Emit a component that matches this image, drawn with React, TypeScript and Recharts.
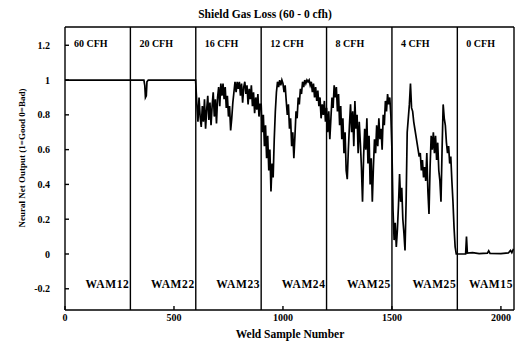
import React from 'react';
import {
  LineChart,
  Line,
  XAxis,
  YAxis,
  ReferenceLine,
  ReferenceArea,
} from 'recharts';

// weld sample boundaries between gas-flow runs
const sectionStarts = [0, 300, 600, 900, 1200, 1500, 1800];
const sectionEnd = 2060;
const flowLabels = ['60 CFH', '20 CFH', '16 CFH', '12 CFH', '8 CFH', '4 CFH', '0 CFH'];
const wamLabels = ['WAM12', 'WAM22', 'WAM23', 'WAM24', 'WAM25', 'WAM25', 'WAM15'];

const xTicks = [0, 500, 1000, 1500, 2000];
const yTicks = [-0.2, 0, 0.2, 0.4, 0.6, 0.8, 1, 1.2];
const yMin = -0.322;
const yMax = 1.305;

// sparse runs: [sample, output]
const cfh60: [number, number][] = [[0, 1], [150, 1], [299, 1]];
const cfh20: [number, number][] = [
  [300, 1], [362, 1], [366, 0.97], [369, 0.9], [373, 0.91], [376, 0.99], [382, 1], [599, 1],
];
const cfh0: [number, number][] = [
  [1800, 0], [1838, 0], [1842, 0.1], [1846, 0.005], [1870, 0.008], [1900, 0.002],
  [1938, 0.005], [1944, 0.018], [1950, 0.004], [2000, 0.002], [2034, 0.006], [2044, 0.02],
  [2050, 0.008], [2058, 0.03],
];

// dense runs, one value every 5 samples
const denseStep = 5;
const cfh16 = [
  0.98, 0.86, 0.76, 0.9, 0.79, 0.73, 0.85, 0.76, 0.89, 0.72,
  0.83, 0.91, 0.77, 0.87, 0.74, 0.85, 0.93, 0.79, 0.89, 0.75,
  0.9, 0.96, 0.85, 0.98, 0.91, 0.98, 0.89, 0.96, 0.84, 0.91,
  0.79, 0.85, 0.71, 0.78, 0.87, 0.93, 0.99, 0.93, 0.99, 0.95,
  0.99, 0.91, 0.98, 0.87, 0.96, 0.99, 0.92, 0.97, 0.86, 0.95,
  0.89, 0.97, 0.85, 0.93, 0.81, 0.9, 0.83, 0.92, 0.79, 0.86,
];
const cfh12 = [
  0.86, 0.7, 0.8, 0.62, 0.74, 0.55, 0.68, 0.48, 0.6, 0.36,
  0.52, 0.44, 0.66, 0.82, 0.93, 0.99, 0.96, 1.0, 0.97, 1.0,
  0.98, 0.93, 0.97, 0.88, 0.8, 0.86, 0.72, 0.78, 0.62, 0.7,
  0.55, 0.68, 0.82, 0.78, 0.9, 0.86, 0.95, 0.92, 0.99, 0.96,
  1.0, 0.98, 1.0, 0.99, 1.0, 0.97, 0.99, 0.93, 0.98, 0.9,
  0.96, 0.88, 0.94, 0.85, 0.9, 0.78, 0.86, 0.8, 0.88, 0.76,
];
const cfh8 = [
  0.84, 0.7, 0.82, 0.66, 0.78, 0.9, 0.84, 0.97, 0.9, 0.96,
  0.82, 0.92, 0.74, 0.85, 0.66, 0.78, 0.58, 0.7, 0.48, 0.43,
  0.6, 0.74, 0.86, 0.7, 0.82, 0.62, 0.88, 0.72, 0.8, 0.58,
  0.76, 0.64, 0.5, 0.3, 0.56, 0.72, 0.6, 0.78, 0.52, 0.68,
  0.4, 0.55, 0.3, 0.5, 0.66, 0.58, 0.74, 0.62, 0.78, 0.66,
  0.72, 0.6, 0.8, 0.74, 0.88, 0.82, 0.92, 0.86, 0.9, 0.8,
];
const cfh4 = [
  0.6, 0.25, 0.08, 0.18, 0.04, 0.14, 0.28, 0.46, 0.3, 0.38,
  0.2, 0.12, 0.02, 0.3, 0.7, 0.78, 0.86, 0.98, 0.84, 0.82,
  0.76, 0.72, 0.68, 0.64, 0.6, 0.56, 0.58, 0.48, 0.54, 0.44,
  0.5, 0.42, 0.58, 0.36, 0.23, 0.5, 0.68, 0.6, 0.7, 0.58,
  0.68, 0.54, 0.64, 0.48, 0.42, 0.3, 0.6, 0.86, 0.78, 0.74,
  0.64, 0.58, 0.62, 0.52, 0.56, 0.42, 0.3, 0.15, 0.04, 0.0,
];

const dense = (start: number, values: number[]) =>
  values.map((v, i) => ({ sample: start + i * denseStep, output: v }));
const sparse = (pts: [number, number][]) => pts.map(([s, v]) => ({ sample: s, output: v }));

const data = [
  ...sparse(cfh60),
  ...sparse(cfh20),
  ...dense(600, cfh16),
  ...dense(900, cfh12),
  ...dense(1200, cfh8),
  ...dense(1500, cfh4),
  ...sparse(cfh0),
];

const serif = 'Liberation Serif, Times New Roman, serif';
const txt = { fontFamily: serif, fontWeight: 700, fontSize: 10, fill: '#000' };

const sectionLabel = (top: string, bottom: string) => (props: any) => {
  const { x, y, width, height } = props.viewBox;
  return (
    <g>
      <text x={x + 9} y={y + 20} style={txt}>{top}</text>
      <text
        x={x + width - 1}
        y={y + height - 22}
        textAnchor="end"
        style={{ ...txt, fontSize: 11.5, letterSpacing: 0.6 }}
      >
        {bottom}
      </text>
    </g>
  );
};

export default function App() {
  return (
    <div style={{ position: 'absolute', left: 0, top: 0, width: 517, height: 347, background: '#fff' }}>
      <LineChart
        width={517}
        height={347}
        data={data}
        margin={{ top: 27, right: 2, bottom: 12, left: 25 }}
      >
        <XAxis
          dataKey="sample"
          type="number"
          domain={[0, sectionEnd]}
          ticks={xTicks}
          allowDataOverflow
          height={25}
          stroke="#000"
          strokeWidth={1.4}
          tickSize={-4}
          tickMargin={8}
          tick={txt}
        />
        <YAxis
          type="number"
          domain={[yMin, yMax]}
          ticks={yTicks}
          allowDataOverflow
          width={40}
          stroke="#000"
          strokeWidth={1.4}
          tickSize={-4}
          tickMargin={19}
          tick={txt}
        />
        <YAxis
          yAxisId="right"
          orientation="right"
          type="number"
          domain={[yMin, yMax]}
          ticks={yTicks}
          allowDataOverflow
          width={1}
          stroke="#000"
          strokeWidth={1.4}
          tickSize={-4}
          tick={false}
        />
        <ReferenceLine y={yMax} stroke="#000" strokeWidth={1.4} />
        {sectionStarts.map((s, i) => (
          <ReferenceArea
            key={`a${s}`}
            x1={s}
            x2={i < sectionStarts.length - 1 ? sectionStarts[i + 1] : sectionEnd}
            y1={yMin}
            y2={yMax}
            fill="none"
            stroke="none"
            label={sectionLabel(flowLabels[i], wamLabels[i])}
          />
        ))}
        {sectionStarts.slice(1).map((s) => (
          <ReferenceLine key={`l${s}`} x={s} stroke="#000" strokeWidth={1.4} />
        ))}
        <Line
          type="linear"
          dataKey="output"
          stroke="#000"
          strokeWidth={1.7}
          dot={false}
          isAnimationActive={false}
        />
      </LineChart>
      <svg
        width={517}
        height={347}
        style={{ position: 'absolute', left: 0, top: 0, pointerEvents: 'none' }}
      >
        <text x={265} y={18} textAnchor="middle" style={{ ...txt, fontSize: 11.5 }}>
          Shield Gas Loss (60 - 0 cfh)
        </text>
        <text x={290} y={338} textAnchor="middle" style={{ ...txt, fontSize: 11.5 }}>
          Weld Sample Number
        </text>
        <text
          x={0}
          y={0}
          textAnchor="middle"
          transform="translate(25,158) rotate(-90)"
          style={{ ...txt, fontSize: 9 }}
        >
          Neural Net Output (1=Good 0=Bad)
        </text>
      </svg>
    </div>
  );
}
